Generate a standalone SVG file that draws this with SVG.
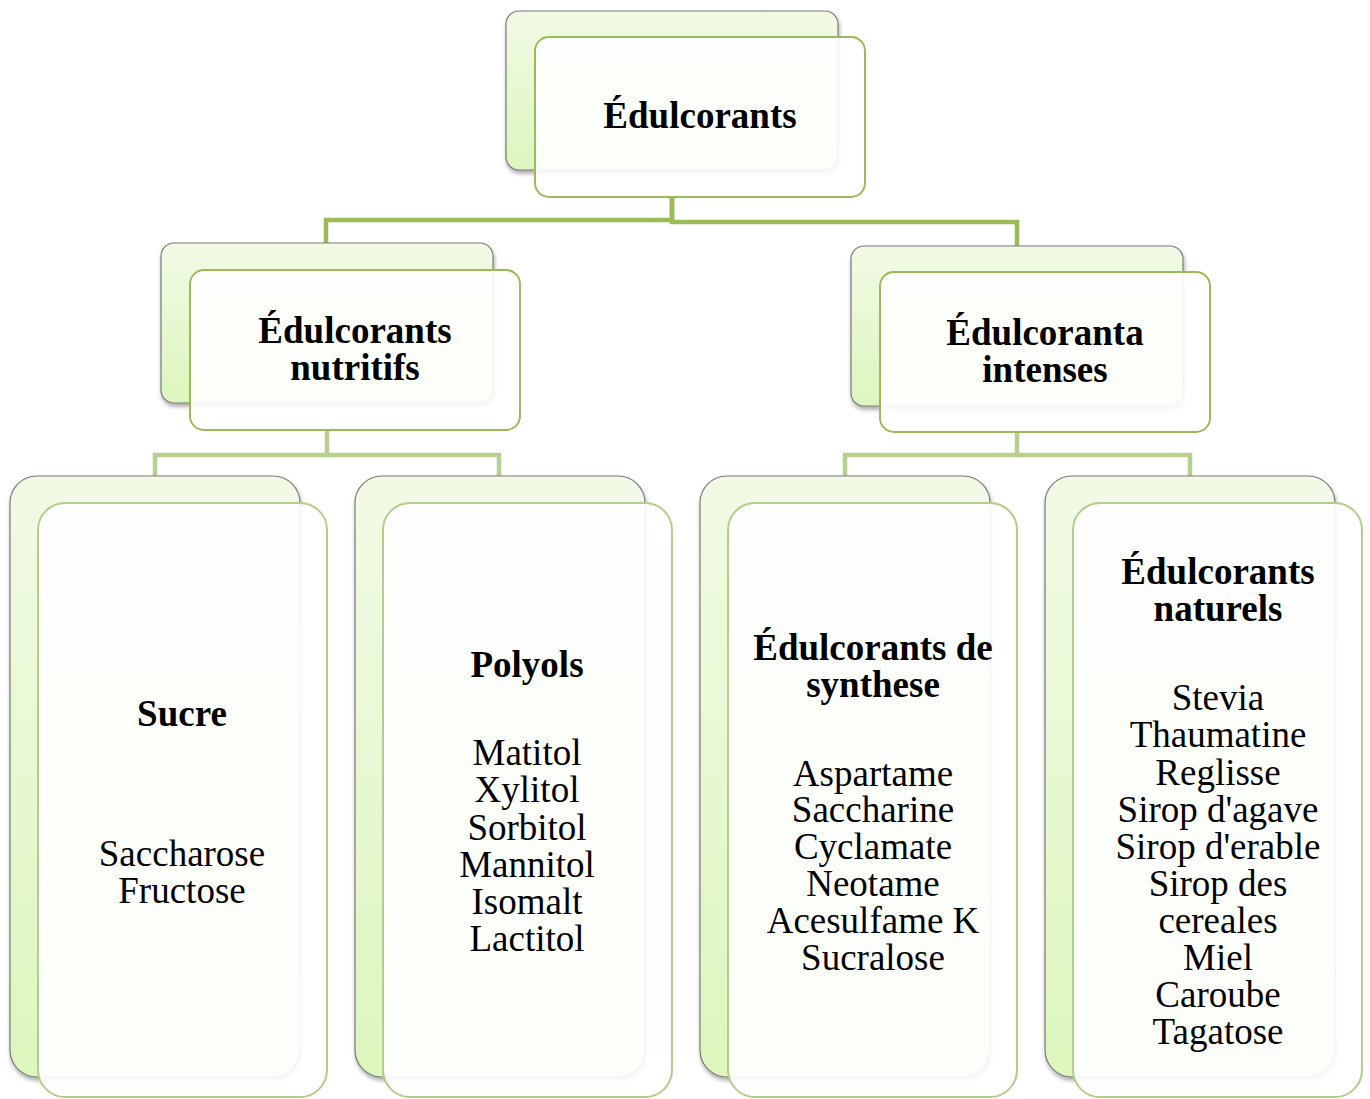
<svg xmlns="http://www.w3.org/2000/svg" width="1370" height="1099" viewBox="0 0 1370 1099">
<defs>
<linearGradient id="g" x1="0" y1="0" x2="0" y2="1">
<stop offset="0" stop-color="#f2fae6"/>
<stop offset="1" stop-color="#dcf6bd"/>
</linearGradient>
<filter id="sh" x="-10%" y="-10%" width="120%" height="120%">
<feDropShadow dx="1" dy="3" stdDeviation="2" flood-color="#000" flood-opacity="0.35"/>
</filter>
</defs>
<style>
.back{fill:url(#g);stroke:#7a7a7a;stroke-width:1.2;filter:url(#sh)}
.front{fill:#ffffff;fill-opacity:0.9;stroke:#9bbb59;stroke-width:2}
.front3{fill:#ffffff;fill-opacity:0.9;stroke:#b3cd8a;stroke-width:2}
.c1{fill:none;stroke:#9bbb59;stroke-width:4.5}
.c2{fill:none;stroke:#b7cf92;stroke-width:4.5}
text{font-family:"Liberation Serif","Times New Roman",serif;font-size:37px;fill:#000;text-anchor:middle}
.b{font-weight:bold}
</style>
<g id="connectors">
<path class="c1" d="M672 197 V220 H326 V243"/>
<path class="c1" d="M672 197 V222 H1017 V246"/>
<path class="c2" d="M327 430 V455 H155 V476"/>
<path class="c2" d="M327 455 H499 V476"/>
<path class="c2" d="M1017 432 V455 H845 V476"/>
<path class="c2" d="M1017 455 H1190 V476"/>
</g>
<g id="n-root">
<rect class="back" x="506" y="11" width="332" height="159" rx="13"/>
<rect class="front" x="535" y="37" width="330" height="160" rx="14"/>
<text class="b" x="700" y="128">Édulcorants</text>
</g>
<g id="n-nutritifs">
<rect class="back" x="161" y="243" width="332" height="160" rx="13"/>
<rect class="front" x="190" y="270" width="330" height="160" rx="14"/>
<text class="b" x="355" y="343">Édulcorants</text>
<text class="b" x="355" y="380">nutritifs</text>
</g>
<g id="n-intenses">
<rect class="back" x="851" y="246" width="332" height="160" rx="13"/>
<rect class="front" x="880" y="272" width="330" height="160" rx="14"/>
<text class="b" x="1045" y="345">Édulcoranta</text>
<text class="b" x="1045" y="382">intenses</text>
</g>
<g id="n-sucre">
<rect class="back" x="10" y="476" width="290" height="601" rx="27"/>
<rect class="front3" x="38" y="503" width="289" height="594" rx="27"/>
<text class="b" x="182" y="726">Sucre</text>
<text x="182" y="866">Saccharose</text>
<text x="182" y="903">Fructose</text>
</g>
<g id="n-polyols">
<rect class="back" x="355" y="476" width="290" height="601" rx="27"/>
<rect class="front3" x="383" y="503" width="289" height="594" rx="27"/>
<text class="b" x="527" y="677">Polyols</text>
<text x="527" y="765">Matitol</text>
<text x="527" y="802">Xylitol</text>
<text x="527" y="840">Sorbitol</text>
<text x="527" y="877">Mannitol</text>
<text x="527" y="914">Isomalt</text>
<text x="527" y="951">Lactitol</text>
</g>
<g id="n-synthese">
<rect class="back" x="700" y="476" width="290" height="601" rx="27"/>
<rect class="front3" x="728" y="503" width="289" height="594" rx="27"/>
<text class="b" x="873" y="660">Édulcorants de</text>
<text class="b" x="873" y="697">synthese</text>
<text x="873" y="786">Aspartame</text>
<text x="873" y="822">Saccharine</text>
<text x="873" y="859">Cyclamate</text>
<text x="873" y="896">Neotame</text>
<text x="873" y="933">Acesulfame K</text>
<text x="873" y="970">Sucralose</text>
</g>
<g id="n-naturels">
<rect class="back" x="1045" y="476" width="290" height="601" rx="27"/>
<rect class="front3" x="1073" y="503" width="289" height="594" rx="27"/>
<text class="b" x="1218" y="584">Édulcorants</text>
<text class="b" x="1218" y="621">naturels</text>
<text x="1218" y="710">Stevia</text>
<text x="1218" y="747">Thaumatine</text>
<text x="1218" y="785">Reglisse</text>
<text x="1218" y="822">Sirop d'agave</text>
<text x="1218" y="859">Sirop d'erable</text>
<text x="1218" y="896">Sirop des</text>
<text x="1218" y="933">cereales</text>
<text x="1218" y="970">Miel</text>
<text x="1218" y="1007">Caroube</text>
<text x="1218" y="1044">Tagatose</text>
</g>
</svg>
